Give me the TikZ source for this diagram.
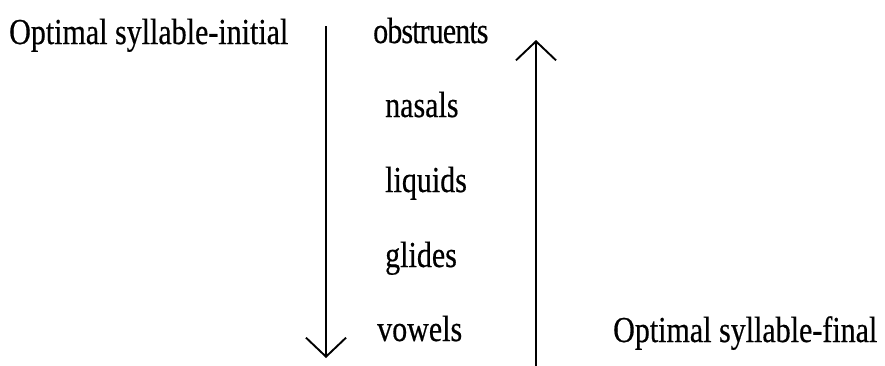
\documentclass[tikz,border=0pt]{standalone}
\usepackage{fontspec}
\setmainfont{Liberation Serif}
\usepackage{graphicx}
\usetikzlibrary{arrows.meta, positioning}

\newcommand{\tall}[1]{\scalebox{1}[1.22]{#1}}

\begin{document}
\begin{tikzpicture}[x=1pt, y=-1pt,
    word/.style={anchor=base west, inner sep=0pt,
                 font=\fontsize{30}{36}\selectfont\addfontfeature{FakeBold=0.5}},
    scalearrow/.style={line width=1.9pt, -{Straight Barb[length=19pt, width=40pt]}}]

\useasboundingbox (0,0) rectangle (885,365);

% Side labels
\node[word] (initial) at (9,44) {\tall{Optimal syllable-initial}};
\node[word] (final) at (613,342) {\tall{Optimal syllable-final}};

% The sonority scale
\foreach \w/\x/\y/\ls in {obstruents/373/43/-3, nasals/385/117/0, liquids/385/192/0,
                          glides/385/267/0, vowels/377/341/0} {
    \node[word] (\w) at (\x,\y) {\addfontfeature{LetterSpace=\ls}\tall{\w}};
}

% Arrow ends
\coordinate (downtop) at (326,26);
\coordinate (downtip) at (326,358);
\coordinate (upfoot) at (536,366);
\coordinate (uptip) at (536,40);

% Arrows
\draw[scalearrow] (downtop) -- (downtip);
\draw[scalearrow] (upfoot) -- (uptip);

\end{tikzpicture}
\end{document}
